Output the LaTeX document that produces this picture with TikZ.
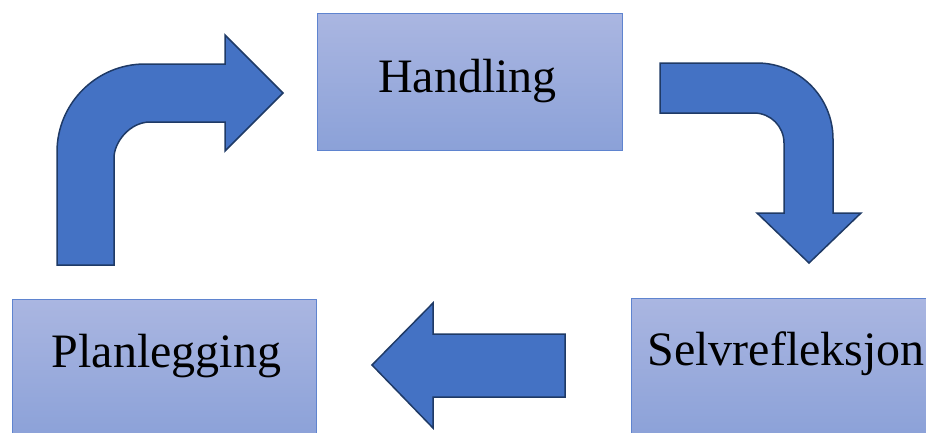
\documentclass[tikz,border=0pt]{standalone}
\usepackage{fontspec}
\setmainfont{Liberation Serif}
\definecolor{boxtop}{HTML}{AAB6E1}
\definecolor{boxbot}{HTML}{8BA1D8}
\definecolor{boxline}{HTML}{5F84CF}
\definecolor{arrfill}{HTML}{4472C4}
\definecolor{arrline}{HTML}{1F3A66}
\tikzset{
  stepbox/.style={draw=boxline, line width=1.2pt, top color=boxtop, bottom color=boxbot, inner sep=0pt, anchor=north west},
  lbl/.style={font=\fontsize{48}{48}\selectfont, text=black, anchor=base, inner sep=0pt},
  blockarrow/.style={fill=arrfill, draw=arrline, line width=1.5pt, line join=miter}
}
\begin{document}
\begin{tikzpicture}[x=1pt,y=-1pt]
\useasboundingbox (0,0) rectangle (926,432);
\clip (0,0) rectangle (926,432);
% boxes
\node[stepbox, minimum width=305pt, minimum height=137pt] (hbox) at (317,13) {};
\node[stepbox, minimum width=304pt, minimum height=140pt] (pbox) at (12,299) {};
\node[stepbox, minimum width=330pt, minimum height=140pt] (sbox) at (631,298) {};
% labels
\node[lbl] (htext) at (467.5,92) {Handling};
\node[lbl] (ptext) at (166.5,367) {Planlegging};
\node[lbl] (stext) at (786,365) {Selvrefleksjon};
% bent arrow: up then right
\draw[blockarrow] (57,265) -- (57,152) .. controls (57,103.4) and (96.4,64) .. (145,64)
  -- (225,64) -- (225,35) -- (283,93) -- (225,151) -- (225,122) -- (150,122)
  .. controls (130.1,122) and (114,141.9) .. (114,158) -- (114,265) -- cycle;
% bent arrow: right then down
\draw[blockarrow] (660,63) -- (757,63) .. controls (799,63) and (833,97) .. (833,139)
  -- (833,213) -- (861,213) -- (809,263) -- (757,213) -- (784,213) -- (784,143)
  .. controls (784,126.4) and (770.6,113) .. (754,113) -- (660,113) -- cycle;
% straight arrow: left
\draw[blockarrow] (565,334) -- (433,334) -- (433,303) -- (372,365) -- (433,428)
  -- (433,397) -- (565,397) -- cycle;
\end{tikzpicture}
\end{document}
